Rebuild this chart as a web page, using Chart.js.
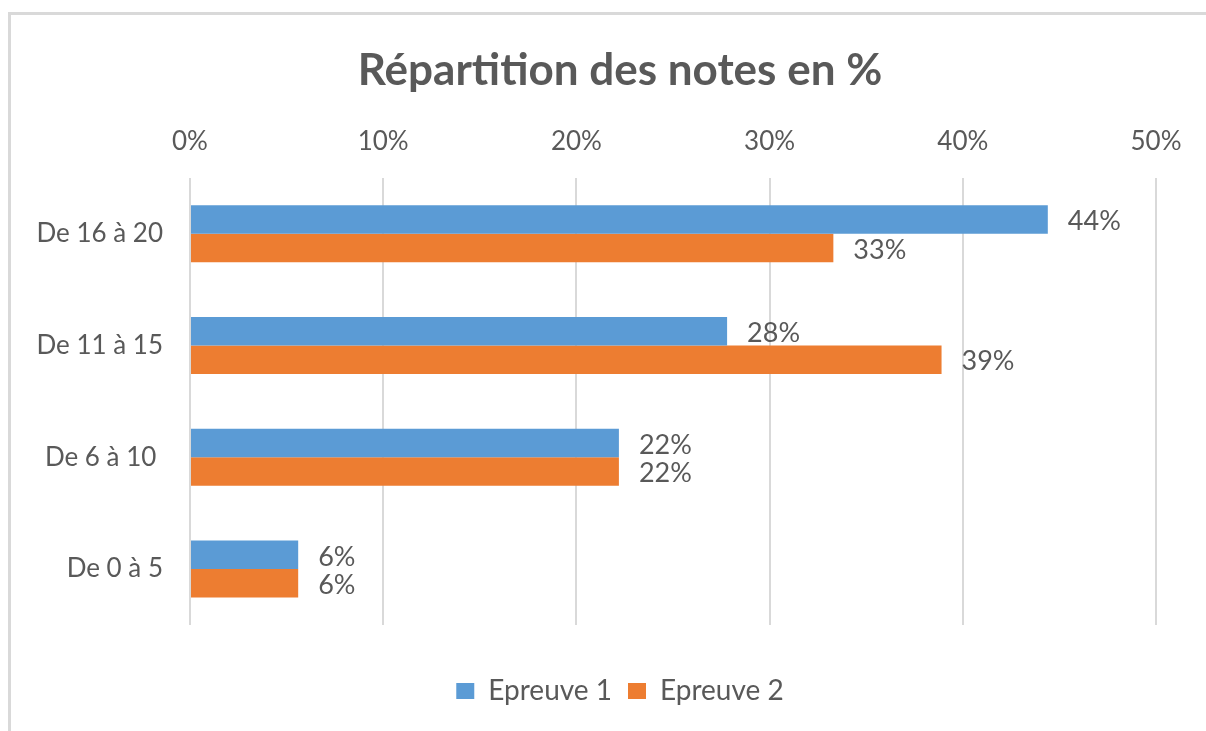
<!DOCTYPE html>
<html>
<head>
<meta charset="utf-8">
<script src="https://cdn.jsdelivr.net/npm/chart.js@4/dist/chart.umd.min.js"></script>
<style>
  html, body { margin: 0; padding: 0; background: #fff; }
  #wrap { width: 1206px; height: 731px; }
</style>
</head>
<body>
<div id="wrap"><canvas id="notesChart" width="1206" height="731"></canvas></div>
<script>
const categories = ['De 16 à 20', 'De 11 à 15', 'De 6 à 10 ', 'De 0 à 5'];
const epreuve1 = [44.4, 27.8, 22.2, 5.6];
const epreuve2 = [33.3, 38.9, 22.2, 5.6];
const xTicks = [0, 10, 20, 30, 40, 50];

const textColor = '#595959';
const fontFamily = 'Lato, "Open Sans", sans-serif';

// light frame round the chart, top and left only
const framePlugin = {
  id: 'frame',
  beforeDraw(chart) {
    const ctx = chart.ctx;
    ctx.save();
    ctx.fillStyle = '#d9d9d9';
    ctx.fillRect(8, 12, chart.width - 8, 3);
    ctx.fillRect(8, 12, 3, chart.height - 12);
    ctx.restore();
  }
};

// title and legend sit a bit right of the canvas centre in the original
const shiftBoxes = {
  id: 'shiftBoxes',
  afterLayout(chart) {
    const dx = 32;
    [chart.titleBlock, chart.legend].forEach(box => {
      if (!box) return;
      box.left += dx;
      box.right += dx;
    });
  }
};

// value labels to the right of each bar
const valueLabels = {
  id: 'valueLabels',
  afterDatasetsDraw(chart) {
    const ctx = chart.ctx;
    ctx.save();
    ctx.font = '27px ' + fontFamily;
    ctx.fillStyle = textColor;
    ctx.textBaseline = 'middle';
    ctx.textAlign = 'left';
    chart.data.datasets.forEach((ds, i) => {
      chart.getDatasetMeta(i).data.forEach((bar, j) => {
        ctx.fillText(Math.round(ds.data[j]) + '%', bar.x + 20, bar.y + 2);
      });
    });
    ctx.restore();
  }
};

new Chart(document.getElementById('notesChart'), {
  type: 'bar',
  data: {
    labels: categories,
    datasets: [
      { label: 'Epreuve 1', data: epreuve1, backgroundColor: '#5B9BD5' },
      { label: 'Epreuve 2', data: epreuve2, backgroundColor: '#ED7D31' }
    ]
  },
  options: {
    indexAxis: 'y',
    responsive: false,
    animation: false,
    layout: { padding: { left: 20, right: 50, top: 44, bottom: 16 } },
    datasets: {
      bar: { categoryPercentage: 0.51, barPercentage: 1 }
    },
    scales: {
      x: {
        position: 'top',
        min: 0,
        max: 50,
        afterBuildTicks(scale) {
          scale.ticks = xTicks.map(v => ({ value: v }));
        },
        afterFit(scale) { scale.height = 58; },
        ticks: {
          callback: v => v + '%',
          color: textColor,
          font: { family: fontFamily, size: 26 },
          padding: 21
        },
        grid: { color: '#d9d9d9', lineWidth: 2, drawTicks: false },
        border: { display: false }
      },
      y: {
        afterFit(scale) { scale.width = 170; },
        ticks: {
          color: textColor,
          font: { family: fontFamily, size: 26 },
          padding: 27
        },
        grid: { display: false, drawTicks: false },
        border: { display: false }
      }
    },
    plugins: {
      title: {
        display: true,
        text: 'Répartition des notes en %',
        color: textColor,
        font: { family: fontFamily, size: 44, weight: 'bold' },
        padding: { top: 0, bottom: 23 }
      },
      legend: {
        position: 'bottom',
        title: {
          display: true,
          text: ' ',
          font: { size: 10 },
          padding: { top: 24, bottom: 0 }
        },
        labels: {
          color: textColor,
          font: { family: fontFamily, size: 28 },
          boxWidth: 18,
          boxHeight: 16,
          padding: 16
        }
      },
      tooltip: { enabled: false }
    }
  },
  plugins: [framePlugin, shiftBoxes, valueLabels]
});
</script>
</body>
</html>
